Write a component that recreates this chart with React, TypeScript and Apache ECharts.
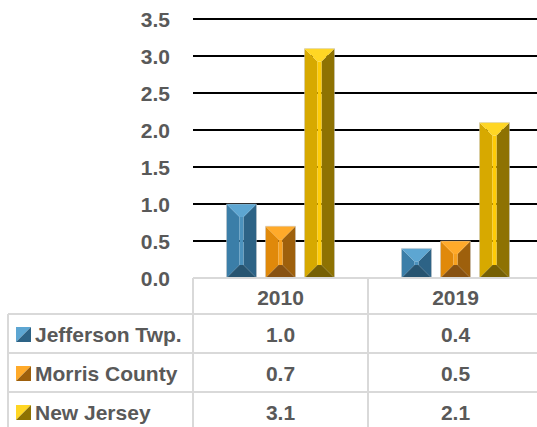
import React, { useEffect, useRef } from "react";
import * as echarts from "echarts";

const categories = ["2010", "2019"];
const seriesNames = ["Jefferson Twp.", "Morris County", "New Jersey"];
const jefferson = [1.0, 0.4];
const morris = [0.7, 0.5];
const newJersey = [3.1, 2.1];
const seriesValues = [jefferson, morris, newJersey];
const yMin = 0;
const yMax = 3.5;
const yInterval = 0.5;

// bevel palettes: top, left, center, right, bottom
const palettes = [
  { top: "#5DA6D2", left: "#3B7EA8", center: "#4C92BD", right: "#2D6386", bottom: "#275470" },
  { top: "#FFAA2A", left: "#E0890A", center: "#F7A01E", right: "#9E600C", bottom: "#885212" },
  { top: "#FFD624", left: "#D7A900", center: "#FFCB05", right: "#8E7202", bottom: "#766004" },
];

const FONT = "'Liberation Sans', Arial, sans-serif";
const TEXT_COLOR = "#595959";
const LINE_COLOR = "#D9D9D9";

const GRID_LEFT = 193;
const GRID_TOP = 19;
const GRID_BOTTOM_Y = 278;
const COL_W = 175;
const HEADER_H = 36;
const ROW_H = 39;
const TABLE_LEFT = 8;

function makeRenderItem(idx: number) {
  return (params: any, api: any) => {
    const cat = api.value(0);
    const val = api.value(1);
    const top = api.coord([cat, val]);
    const base = api.coord([cat, 0]);
    const band = api.size([1, 0])[0];
    const bw = (band * 30) / 175;
    const gap = (band * 9) / 175;
    const cx = top[0] + (idx - 1) * (bw + gap);
    const x0 = cx - bw / 2;
    const x1 = cx + bw / 2;
    const y0 = top[1];
    const yb = base[1];
    const h = yb - y0;
    const b = Math.min((13 / 30) * bw, h / 2);
    const s = Math.min(2, bw / 8);
    const p = palettes[idx];
    return {
      type: "group",
      children: [
        {
          type: "polygon",
          shape: { points: [[x0, y0], [cx - s, y0 + b], [cx - s, yb - b], [x0, yb]] },
          style: { fill: p.left },
        },
        {
          type: "polygon",
          shape: { points: [[x1, y0], [cx + s, y0 + b], [cx + s, yb - b], [x1, yb]] },
          style: { fill: p.right },
        },
        {
          type: "rect",
          shape: { x: cx - s, y: y0 + b, width: 2 * s, height: Math.max(0, yb - b - (y0 + b)) },
          style: { fill: p.center },
        },
        {
          type: "polygon",
          shape: { points: [[x0, y0], [x1, y0], [cx + s, y0 + b], [cx - s, y0 + b]] },
          style: { fill: p.top },
        },
        {
          type: "polygon",
          shape: { points: [[x0, yb], [x1, yb], [cx + s, yb - b], [cx - s, yb - b]] },
          style: { fill: p.bottom },
        },
        {
          type: "rect",
          shape: { x: x0, y: y0, width: bw, height: h },
          style: { fill: "none", stroke: "rgba(200,200,200,0.6)", lineWidth: 0.8 },
        },
      ],
    };
  };
}

function buildTable() {
  const els: any[] = [];
  const right = GRID_LEFT + COL_W * categories.length;
  const bottom = GRID_BOTTOM_Y + HEADER_H + ROW_H * seriesNames.length;
  const line = (x1: number, y1: number, x2: number, y2: number) => ({
    type: "line",
    shape: { x1, y1, x2, y2 },
    style: { stroke: LINE_COLOR, lineWidth: 2 },
    z: 10,
  });
  // horizontal lines
  els.push(line(GRID_LEFT, GRID_BOTTOM_Y, right, GRID_BOTTOM_Y));
  for (let r = 0; r <= seriesNames.length; r++) {
    const y = GRID_BOTTOM_Y + HEADER_H + r * ROW_H;
    els.push(line(TABLE_LEFT, y, right, y));
  }
  // vertical lines
  els.push(line(TABLE_LEFT, GRID_BOTTOM_Y + HEADER_H, TABLE_LEFT, bottom));
  for (let c = 0; c <= categories.length; c++) {
    const x = GRID_LEFT + c * COL_W;
    els.push(line(x, GRID_BOTTOM_Y, x, bottom));
  }
  const textStyle = (text: string, x: number, y: number, align: string) => ({
    type: "text",
    x,
    y,
    z: 11,
    style: {
      text,
      fill: TEXT_COLOR,
      font: `bold 21px ${FONT}`,
      align,
      verticalAlign: "middle",
    },
  });
  categories.forEach((c, j) => {
    els.push(textStyle(c, GRID_LEFT + COL_W * (j + 0.5), GRID_BOTTOM_Y + HEADER_H / 2 + 1, "center"));
  });
  seriesNames.forEach((name, i) => {
    const yc = GRID_BOTTOM_Y + HEADER_H + ROW_H * (i + 0.5) + 1;
    const p = palettes[i];
    const mx = 16;
    const ms = 15;
    const my = yc - ms / 2;
    els.push({
      type: "polygon",
      z: 11,
      shape: { points: [[mx, my], [mx + ms, my], [mx, my + ms]] },
      style: { fill: p.top },
    });
    els.push({
      type: "polygon",
      z: 11,
      shape: { points: [[mx + ms, my], [mx + ms, my + ms], [mx, my + ms]] },
      style: { fill: p.right },
    });
    els.push(textStyle(name, 35, yc, "left"));
    seriesValues[i].forEach((v, j) => {
      els.push(textStyle(v.toFixed(1), GRID_LEFT + COL_W * (j + 0.5), yc, "center"));
    });
  });
  return els;
}

export default function App() {
  const ref = useRef<HTMLDivElement>(null);
  useEffect(() => {
    if (!ref.current) return;
    const chart = echarts.init(ref.current, undefined, { renderer: "svg" });
    const nLines = Math.round((yMax - yMin) / yInterval) + 1;
    const splitColors = Array.from({ length: nLines }, (_, i) => (i === 0 ? LINE_COLOR : "#000000"));
    chart.setOption({
      animation: false,
      backgroundColor: "#ffffff",
      grid: {
        left: GRID_LEFT,
        top: GRID_TOP,
        width: COL_W * categories.length,
        height: GRID_BOTTOM_Y - GRID_TOP,
        containLabel: false,
      },
      xAxis: {
        type: "category",
        data: categories,
        axisLine: { show: false },
        axisTick: { show: false },
        axisLabel: { show: false },
        splitLine: { show: false },
      },
      yAxis: {
        type: "value",
        min: yMin,
        max: yMax,
        interval: yInterval,
        axisLine: { show: false },
        axisTick: { show: false },
        axisLabel: {
          margin: 23,
          formatter: (v: number) => v.toFixed(1),
          color: TEXT_COLOR,
          fontWeight: "bold",
          fontSize: 21,
          fontFamily: FONT,
        },
        splitLine: { lineStyle: { color: splitColors, width: 2 } },
      },
      series: seriesNames.map((name, idx) => ({
        type: "custom",
        name,
        renderItem: makeRenderItem(idx),
        encode: { x: 0, y: 1 },
        data: seriesValues[idx].map((v, j) => [j, v]),
        clip: false,
      })),
      graphic: buildTable(),
    });
    return () => chart.dispose();
  }, []);
  return (
    <div style={{ position: "fixed", left: 0, top: 0, width: 537, height: 427, overflow: "hidden", background: "#fff" }}>
      <div ref={ref} style={{ width: 545, height: 435 }} />
    </div>
  );
}
